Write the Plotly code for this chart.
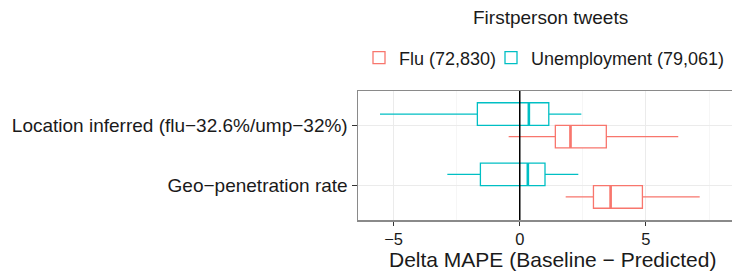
import plotly.graph_objects as go

# ---- data ----
categories = ["Geo\u2212penetration rate", "Location inferred (flu\u221232.6%/ump\u221232%)"]

flu_lower = [1.82, -0.44]
flu_q1 = [2.92, 1.41]
flu_median = [3.60, 2.01]
flu_q3 = [4.86, 3.43]
flu_upper = [7.13, 6.28]

ump_lower = [-2.87, -5.54]
ump_q1 = [-1.56, -1.68]
ump_median = [0.32, 0.36]
ump_q3 = [1.00, 1.15]
ump_upper = [2.32, 2.44]

series_names = ["Flu (72,830)", "Unemployment (79,061)"]
series_colors = ["#F8766D", "#00BFC4"]
x_ticks = [-5, 0, 5]
x_tick_labels = ["\u22125", "0", "5"]
ref_line_x = 0

FONT = "Liberation Sans, Arial, Helvetica, sans-serif"
TXT = "#1A1A1A"

W, H = 732, 273
ML, MR, MT, MB = 358, 0, 91, 53
PLOT_W = W - ML - MR
PLOT_H = H - MT - MB


def px_x(px):
    return (px - ML) / PLOT_W


def px_y(px_from_top):
    return (H - MB - px_from_top) / PLOT_H


fig = go.Figure()

stats = [
    (flu_lower, flu_q1, flu_median, flu_q3, flu_upper),
    (ump_lower, ump_q1, ump_median, ump_q3, ump_upper),
]
legend_ids = ["legend", "legend2"]

for i, (lo, q1, med, q3, up) in enumerate(stats):
    fig.add_trace(go.Box(
        name=series_names[i],
        y=categories,
        lowerfence=lo, q1=q1, median=med, q3=q3, upperfence=up,
        orientation="h",
        line=dict(color=series_colors[i], width=1.3),
        fillcolor="white",
        whiskerwidth=0,
        boxpoints=False,
        offsetgroup=str(i),
        alignmentgroup="a",
        legend=legend_ids[i],
        hoverinfo="skip",
    ))
    # thicker median overlay
    fig.add_trace(go.Box(
        name=series_names[i],
        y=categories,
        lowerfence=med, q1=med, median=med, q3=med, upperfence=med,
        orientation="h",
        line=dict(color=series_colors[i], width=2.6),
        fillcolor="rgba(0,0,0,0)",
        whiskerwidth=0,
        boxpoints=False,
        offsetgroup=str(i),
        alignmentgroup="a",
        showlegend=False,
        hoverinfo="skip",
    ))

fig.add_vline(x=ref_line_x, line=dict(color="black", width=1.5))

legend_common = dict(orientation="h", xanchor="left", yanchor="middle",
                     font=dict(size=18, color=TXT), bgcolor="rgba(0,0,0,0)",
                     itemwidth=30)

fig.update_layout(
    width=W, height=H,
    margin=dict(l=ML, r=MR, t=MT, b=MB, autoexpand=False),
    paper_bgcolor="white", plot_bgcolor="white",
    font=dict(family=FONT, color=TXT),
    boxmode="group", boxgap=0.25, boxgroupgap=0,
    showlegend=True,
    legend=dict(x=px_x(359), y=px_y(58), **legend_common),
    legend2=dict(x=px_x(491), y=px_y(58), **legend_common),
    annotations=[
        dict(text="Firstperson tweets", xref="paper", yref="paper",
             x=px_x(550), y=px_y(17), xanchor="center", yanchor="middle",
             showarrow=False, font=dict(size=19, color=TXT)),
        dict(text="Delta MAPE (Baseline \u2212 Predicted)", xref="paper", yref="paper",
             x=px_x(552), y=px_y(259), xanchor="center", yanchor="middle",
             showarrow=False, font=dict(size=21, color=TXT)),
    ],
)

fig.update_xaxes(
    range=[-6.41, 8.41],
    tickvals=x_ticks, ticktext=x_tick_labels,
    tickfont=dict(size=16.5, color=TXT),
    ticks="outside", ticklen=4, tickcolor="#333333", tickwidth=1,
    showgrid=True, gridcolor="#EBEBEB", gridwidth=1,
    minor=dict(dtick=2.5, tick0=0, showgrid=True, gridcolor="#F4F4F4", gridwidth=0.8),
    showline=True, linecolor="#8A8A8A", linewidth=1.5, mirror=True,
    zeroline=False, automargin=False,
)
fig.update_yaxes(
    type="category", categoryorder="array", categoryarray=categories,
    range=[-0.57, 1.57],
    tickfont=dict(size=19, color=TXT),
    ticks="outside", ticklen=5, tickcolor="#333333", tickwidth=1,
    showgrid=True, gridcolor="#EBEBEB", gridwidth=1,
    showline=True, linecolor="#8A8A8A", linewidth=1.5, mirror=False,
    zeroline=False, automargin=False,
)

fig.write_html("out.html", config={"displayModeBar": False, "staticPlot": True})

# remove the browser's default body margin so the figure sits at (0, 0)
with open("out.html", "r", encoding="utf-8") as f:
    html = f.read()
html = html.replace("<body>", '<body style="margin:0;padding:0;overflow:hidden">', 1)
with open("out.html", "w", encoding="utf-8") as f:
    f.write(html)
